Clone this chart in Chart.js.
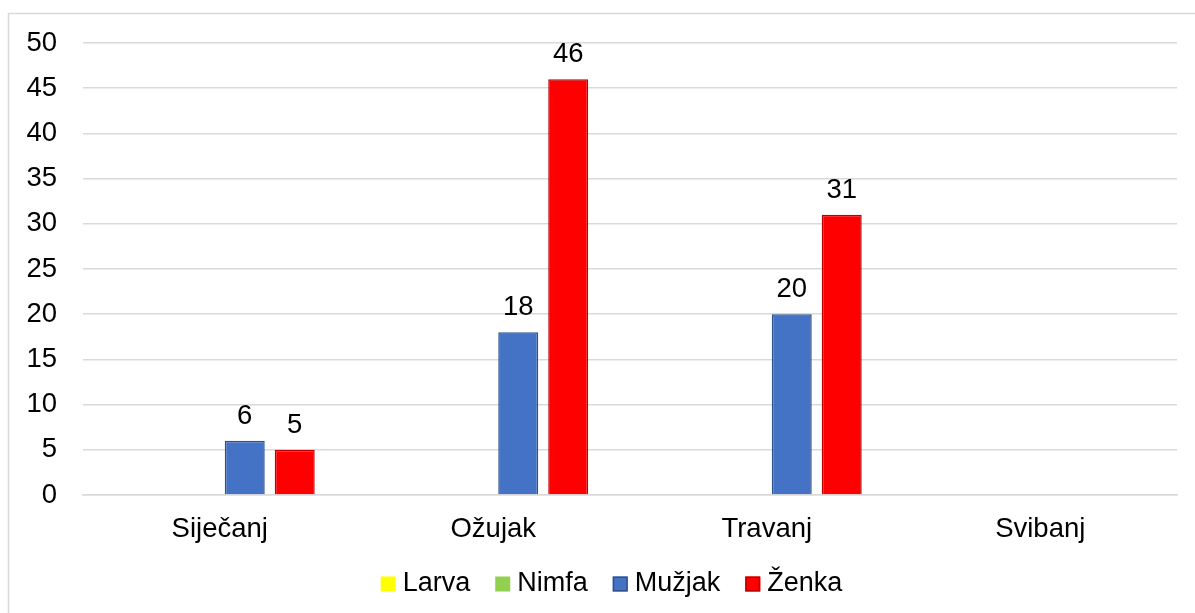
<!DOCTYPE html>
<html><head><meta charset="utf-8">
<script src="https://cdn.jsdelivr.net/npm/chart.js@4"></script>
<style>html,body{margin:0;padding:0;background:#fff;}#wrap{position:absolute;left:0;top:0;width:1195px;height:613px;}</style>
</head><body><div id="wrap"><canvas id="c" width="1195" height="613"></canvas></div>
<script>
const categories = ["Siječanj", "Ožujak", "Travanj", "Svibanj"];
const larva = [0, 0, 0, 0];
const nimfa = [0, 0, 0, 0];
const muzjak = [6, 18, 20, 0];
const zenka = [5, 46, 31, 0];
const yTicks = [0, 5, 10, 15, 20, 25, 30, 35, 40, 45, 50];

const FONT = "'Liberation Sans', Arial, sans-serif";
const FS = 27.5;

const borderPlugin = {
  id: 'frame',
  beforeDraw(chart) {
    const ctx = chart.ctx;
    ctx.save();
    ctx.fillStyle = '#fff';
    ctx.fillRect(0, 0, chart.width, chart.height);
    ctx.strokeStyle = '#d9d9d9';
    ctx.lineWidth = 1.5;
    ctx.strokeRect(8.5, 13.5, 1300, 700);
    ctx.restore();
  }
};

const labelPlugin = {
  id: 'vals',
  afterDatasetsDraw(chart) {
    const ctx = chart.ctx;
    ctx.save();
    ctx.font = FS + "px " + FONT;
    ctx.fillStyle = '#000';
    ctx.textAlign = 'center';
    ctx.textBaseline = 'alphabetic';
    chart.data.datasets.forEach((ds, i) => {
      if (!ds.showLabels) return;
      const meta = chart.getDatasetMeta(i);
      meta.data.forEach((bar, j) => {
        const v = ds.data[j];
        if (!v) return;
        ctx.fillText(String(v), bar.x, bar.y - 17);
      });
    });
    ctx.restore();
  }
};

const legendPlugin = {
  id: 'customLegend',
  afterDraw(chart) {
    const ctx = chart.ctx;
    const ds = chart.data.datasets;
    ctx.save();
    ctx.font = "27px " + FONT;
    const box = 15, gapText = 7, gapItem = 25;
    const widths = ds.map(d => box + gapText + ctx.measureText(d.label).width);
    const total = widths.reduce((a, b) => a + b, 0) + gapItem * (ds.length - 1);
    const chartMid = (chart.chartArea.left + chart.chartArea.right) / 2;
    let x = chartMid - 18.5 - total / 2;
    const cy = 584;
    ds.forEach((d, i) => {
      ctx.fillStyle = d.backgroundColor;
      ctx.fillRect(x, cy - box / 2, box, box);
      if (d.borderWidth) {
        ctx.strokeStyle = d.borderColor;
        ctx.lineWidth = 1.5;
        ctx.strokeRect(x + 0.75, cy - box / 2 + 0.75, box - 1.5, box - 1.5);
      }
      ctx.fillStyle = '#000';
      ctx.textAlign = 'left';
      ctx.textBaseline = 'middle';
      ctx.fillText(d.label, x + box + gapText, cy);
      x += widths[i] + gapItem;
    });
    ctx.restore();
  }
};

new Chart(document.getElementById('c'), {
  type: 'bar',
  data: {
    labels: categories,
    datasets: [
      { label: 'Larva', data: larva, backgroundColor: '#FFFF00', borderColor: '#FFFF00', borderWidth: 0 },
      { label: 'Nimfa', data: nimfa, backgroundColor: '#92D050', borderColor: '#92D050', borderWidth: 0 },
      { label: 'Mužjak', data: muzjak, backgroundColor: '#4472C4', borderColor: '#2F528F', borderWidth: 1.5, showLabels: true },
      { label: 'Ženka', data: zenka, backgroundColor: '#FF0000', borderColor: '#C00000', borderWidth: 1.5, showLabels: true }
    ]
  },
  options: {
    responsive: false,
    animation: false,
    devicePixelRatio: 1,
    layout: { padding: { left: 0, right: 18, top: 43, bottom: 68 } },
    datasets: { bar: { barPercentage: 0.8, categoryPercentage: 0.731 } },
    plugins: {
      legend: { display: false },
      tooltip: { enabled: false }
    },
    scales: {
      x: {
        grid: { display: false, drawTicks: false },
        border: { display: true, color: '#d9d9d9', width: 1.5 },
        ticks: { font: { family: FONT, size: FS }, color: '#000', padding: 18 },
        afterFit(s) { s.height = 50; }
      },
      y: {
        min: 0, max: 50,
        afterBuildTicks(s) { s.ticks = yTicks.map(v => ({ value: v })); },
        grid: { color: '#d9d9d9', lineWidth: 1.5, drawTicks: false },
        border: { display: false },
        ticks: { font: { family: FONT, size: FS }, color: '#000', padding: 26 },
        afterFit(s) { s.width = 83; }
      }
    }
  },
  plugins: [borderPlugin, labelPlugin, legendPlugin]
});
</script>
</body></html>
